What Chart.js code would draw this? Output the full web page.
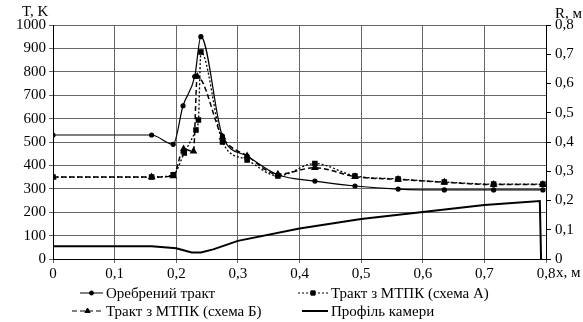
<!DOCTYPE html>
<html>
<head>
<meta charset="utf-8">
<script src="https://cdn.jsdelivr.net/npm/chart.js@4.4.0/dist/chart.umd.min.js"></script>
<style>
  html, body { margin: 0; padding: 0; background: #fff; }
  #wrap { width: 583px; height: 322px; position: relative; font-family: "Liberation Serif", serif; font-size: 15px; color: #000; }
  #wrap canvas { position: absolute; left: 0; top: 0; }
  .lbl { position: absolute; white-space: nowrap; line-height: 16px; }
</style>
</head>
<body>
<div id="wrap">
  <canvas id="chart" width="583" height="322"></canvas>
  <div class="lbl" style="left:22px; top:3px">T, K</div>
  <div class="lbl" style="left:555px; top:5px">R, м</div>
  <div class="lbl" style="left:556px; top:264px">x, м</div>
  <div class="lbl" style="left:106px; top:285px">Оребрений тракт</div>
  <div class="lbl" style="left:331px; top:285px">Тракт з МТПК (схема А)</div>
  <div class="lbl" style="left:106px; top:303px">Тракт з МТПК (схема Б)</div>
  <div class="lbl" style="left:331px; top:303px">Профіль камери</div>
</div>
<script>
// Gas temperature along the chamber (T, K) and chamber profile (R, m)
const xRib = [0, 0.16, 0.195, 0.211, 0.23, 0.240, 0.275, 0.315, 0.365, 0.425, 0.49, 0.56, 0.635, 0.715, 0.795];
const tRib = [530, 530, 490, 655, 780, 950, 525, 440, 360, 333, 312, 299, 295, 295, 295];

const xSchemeA = [0, 0.16, 0.195, 0.213, 0.232, 0.236, 0.240, 0.275, 0.315, 0.365, 0.425, 0.49, 0.56, 0.635, 0.715, 0.795];
const tSchemeA = [350, 350, 360, 453, 551, 594, 885, 500, 423, 355, 408, 355, 342, 329, 320, 320];

const xSchemeB = [0, 0.16, 0.195, 0.212, 0.228, 0.234, 0.275, 0.315, 0.365, 0.425, 0.49, 0.56, 0.635, 0.715, 0.795];
const tSchemeB = [350, 350, 355, 470, 460, 780, 520, 440, 362, 390, 352, 340, 328, 318, 318];

const xProfile = [0, 0, 0.16, 0.2, 0.225, 0.24, 0.26, 0.3, 0.4, 0.5, 0.6, 0.7, 0.79, 0.792];
const rProfile = [0, 0.044, 0.044, 0.037, 0.022, 0.022, 0.033, 0.062, 0.104, 0.137, 0.161, 0.185, 0.198, 0];

const labels = ['Оребрений тракт', 'Тракт з МТПК (схема А)', 'Тракт з МТПК (схема Б)', 'Профіль камери'];

const FONT = '"Liberation Serif", serif';

function pts(xs, ys) {
    return xs.map((x, i) => ({ x: x, y: ys[i] }));
}

function comma(v) {
    if (Math.abs(v) < 1e-9) return '0';
    return v.toFixed(1).replace('.', ',');
}

// line samples for the legend (text is in the html above)
const legendSamples = {
    id: 'legendSamples',
    afterDraw(chart) {
        const ctx = chart.ctx;
        const items = [
            { x0: 80, x1: 103, y: 293, dash: [], style: 'circle', r: 2 },
            { x0: 298, x1: 328, y: 293, dash: [2, 2], style: 'rect', r: 3 },
            { x0: 72, x1: 103, y: 311, dash: [5, 3], style: 'triangle', r: 3 },
            { x0: 302, x1: 328, y: 311, dash: [], style: false, r: 0 }
        ];
        ctx.save();
        items.forEach((it, i) => {
            ctx.strokeStyle = '#000';
            ctx.lineWidth = i === 3 ? 2 : 1;
            ctx.setLineDash(it.dash);
            ctx.beginPath();
            ctx.moveTo(it.x0, it.y);
            ctx.lineTo(it.x1, it.y);
            ctx.stroke();
            ctx.setLineDash([]);
            if (it.style) {
                Chart.helpers.drawPoint(ctx, { pointStyle: it.style, radius: it.r, rotation: 0, borderWidth: 1 },
                    (it.x0 + it.x1) / 2, it.y);
                ctx.fillStyle = '#000';
                ctx.fill();
            }
        });
        ctx.restore();
    }
};

function build() {
    const ctx = document.getElementById('chart').getContext('2d');
    new Chart(ctx, {
        type: 'line',
        data: {
            datasets: [
                {
                    label: labels[0],
                    data: pts(xRib, tRib),
                    borderColor: '#000',
                    backgroundColor: '#000',
                    borderWidth: 1.2,
                    pointStyle: 'circle',
                    pointRadius: 2,
                    cubicInterpolationMode: 'monotone',
                    yAxisID: 'y'
                },
                {
                    label: labels[1],
                    data: pts(xSchemeA, tSchemeA),
                    borderColor: '#000',
                    backgroundColor: '#000',
                    borderWidth: 1.3,
                    borderDash: [2, 2],
                    pointStyle: 'rect',
                    pointRadius: 3,
                    cubicInterpolationMode: 'monotone',
                    yAxisID: 'y'
                },
                {
                    label: labels[2],
                    data: pts(xSchemeB, tSchemeB),
                    borderColor: '#000',
                    backgroundColor: '#000',
                    borderWidth: 1.5,
                    borderDash: [5, 3],
                    pointStyle: 'triangle',
                    pointRadius: 3,
                    cubicInterpolationMode: 'monotone',
                    yAxisID: 'y'
                },
                {
                    label: labels[3],
                    data: pts(xProfile, rProfile),
                    borderColor: '#000',
                    borderWidth: 2,
                    pointRadius: 0,
                    tension: 0,
                    yAxisID: 'y2'
                }
            ]
        },
        options: {
            responsive: false,
            animation: false,
            layout: { padding: { top: 25, left: 0, right: 0, bottom: 0 } },
            plugins: {
                legend: { display: false },
                tooltip: { enabled: false }
            },
            scales: {
                x: {
                    type: 'linear',
                    min: 0,
                    max: 0.8,
                    afterFit: s => { s.height = 63; },
                    grid: { color: '#666', tickLength: 4 },
                    border: { color: '#000' },
                    ticks: {
                        stepSize: 0.1,
                        padding: 2,
                        color: '#000',
                        font: { family: FONT, size: 15 },
                        callback: v => comma(v)
                    }
                },
                y: {
                    position: 'left',
                    min: 0,
                    max: 1000,
                    afterFit: s => { s.width = 53; },
                    grid: { color: '#666', tickLength: 4 },
                    border: { color: '#000' },
                    ticks: {
                        stepSize: 100,
                        padding: 3,
                        color: '#000',
                        font: { family: FONT, size: 15 },
                        callback: v => String(v)
                    }
                },
                y2: {
                    position: 'right',
                    min: 0,
                    max: 0.8,
                    afterFit: s => { s.width = 37; },
                    grid: { drawOnChartArea: false, color: '#000', tickLength: 5 },
                    border: { color: '#000' },
                    ticks: {
                        stepSize: 0.1,
                        padding: 4,
                        color: '#000',
                        font: { family: FONT, size: 15 },
                        callback: v => comma(v)
                    }
                }
            }
        },
        plugins: [legendSamples]
    });
}

window.addEventListener('load', build);
</script>
</body>
</html>
